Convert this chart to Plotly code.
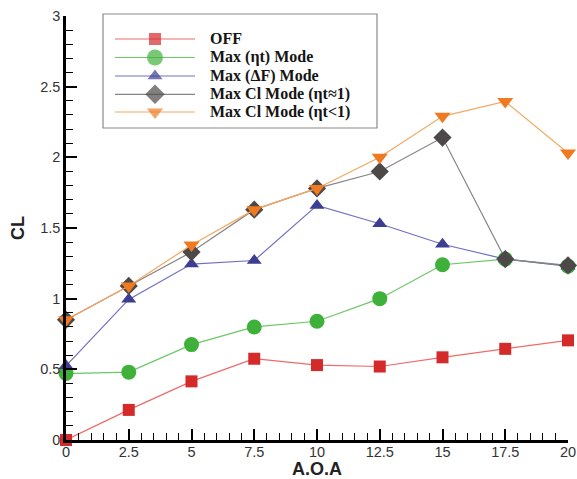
import plotly.graph_objects as go

# ---- data ----
aoa = [0, 2.5, 5, 7.5, 10, 12.5, 15, 17.5, 20]
x_tick_labels = ["0", "2.5", "5", "7.5", "10", "12.5", "15", "17.5", "20"]
y_tick_vals = [0, 0.5, 1, 1.5, 2, 2.5, 3]
y_tick_labels = ["0", "0.5", "1", "1.5", "2", "2.5", "3"]
series_names = ["OFF", "Max (ηt) Mode", "Max (ΔF) Mode", "Max Cl Mode (ηt≈1)", "Max Cl Mode (ηt<1)"]
cl_off = [0.0, 0.213, 0.415, 0.575, 0.53, 0.52, 0.585, 0.645, 0.705]
cl_max_eta = [0.47, 0.48, 0.675, 0.80, 0.84, 1.00, 1.24, 1.28, 1.23]
cl_max_df = [0.525, 0.995, 1.245, 1.27, 1.66, 1.53, 1.385, 1.28, 1.23]
cl_max_cl_eq = [0.85, 1.09, 1.33, 1.63, 1.78, 1.90, 2.14, 1.28, 1.235]
cl_max_cl_lt = [0.85, 1.09, 1.38, 1.63, 1.78, 2.00, 2.29, 2.395, 2.03]
series_values = [cl_off, cl_max_eta, cl_max_df, cl_max_cl_eq, cl_max_cl_lt]

# ---- styles ----
marker_colors = ["#d42a2a", "#3fb13a", "#3d3d92", "#4d4949", "#f07a22"]
line_colors = ["#f06a6a", "#6cc765", "#7070c0", "#8a8585", "#f5a860"]
symbols = ["square", "circle", "triangle-up", "diamond", "triangle-down"]
sizes = [12, 15, 13, 14, 14]
legend_sizes = [12, 16, 13, 15, 14]

# page-pixel geometry of the plot area
L, R, T, B = 66, 568, 16, 440
W, H = 577, 479

fig = go.Figure()
for name, ys, mc, lc, sym, sz in zip(series_names, series_values, marker_colors, line_colors, symbols, sizes):
    fig.add_trace(go.Scatter(
        x=aoa, y=ys, name=name, mode="lines+markers",
        line=dict(color=lc, width=1.2),
        marker=dict(color=mc, symbol=sym, size=sz, line=dict(width=0)),
        cliponaxis=False, showlegend=False,
    ))

# ---- hand-made legend (overlay axes in page pixels) ----
leg_x0, leg_x1, leg_xm, leg_text_x = 115, 195, 155, 209
leg_rows = [39, 57.5, 76, 94.3, 112]
for name, mc, lc, sym, sz, yy in zip(series_names, marker_colors, line_colors, symbols, legend_sizes, leg_rows):
    fig.add_trace(go.Scatter(
        x=[leg_x0, leg_xm, leg_x1], y=[yy, yy, yy], mode="lines+markers",
        xaxis="x2", yaxis="y2", showlegend=False, hoverinfo="skip",
        line=dict(color=lc, width=1.2),
        marker=dict(color=mc, symbol=sym, size=[0, sz, 0], line=dict(width=0)),
        cliponaxis=False,
    ))
    fig.add_annotation(
        x=(leg_text_x - L) / (R - L), y=(B - yy) / (B - T), xref="paper", yref="paper",
        text="<b>" + name + "</b>", showarrow=False, xanchor="left", yanchor="middle",
        font=dict(family="Liberation Serif, Times New Roman", size=16, color="#151515"),
        borderpad=0,
    )

fig.add_shape(
    type="rect", xref="paper", yref="paper",
    x0=(103 - L) / (R - L), x1=(377 - L) / (R - L),
    y0=(B - 128) / (B - T), y1=(B - 14) / (B - T),
    line=dict(color="#8a8a8a", width=1.2), fillcolor="rgba(0,0,0,0)", layer="below",
)

axis_common = dict(
    showgrid=False, zeroline=False, showline=True, linecolor="black", linewidth=2.5,
    ticks="inside", ticklen=11, tickwidth=2, tickcolor="black",
    tickfont=dict(family="Liberation Sans, Arial", size=14.5, color="#333333"),
    mirror=False, automargin=False,
)

fig.update_layout(
    xaxis=dict(
        range=[0, 20], tickmode="array", tickvals=aoa, ticktext=x_tick_labels,
        minor=dict(dtick=0.5, ticks="inside", ticklen=7, tickwidth=1, tickcolor="black"),
        ticklabelstandoff=-3,
        **axis_common,
    ),
    yaxis=dict(
        range=[0, 3], tickmode="array", tickvals=y_tick_vals, ticktext=y_tick_labels,
        minor=dict(dtick=0.1, ticks="inside", ticklen=7, tickwidth=1, tickcolor="black"),
        **axis_common,
    ),
    xaxis2=dict(range=[L, R], overlaying="x", anchor="y2", visible=False, fixedrange=True),
    yaxis2=dict(range=[B, T], overlaying="y", anchor="x2", visible=False, fixedrange=True),
    width=W, height=H,
    margin=dict(l=L, r=W - R, t=T, b=H - B),
    paper_bgcolor="white", plot_bgcolor="white",
    showlegend=False,
)

# axis titles
fig.add_annotation(
    x=(317 - L) / (R - L), y=(B - 469) / (B - T), xref="paper", yref="paper",
    text="<b>A.O.A</b>", showarrow=False, xanchor="center", yanchor="middle",
    font=dict(family="Liberation Sans, Arial", size=18, color="#222222"), borderpad=0,
)
fig.add_annotation(
    x=(18 - L) / (R - L), y=(B - 228) / (B - T), xref="paper", yref="paper",
    text="<b>CL</b>", showarrow=False, xanchor="center", yanchor="middle", textangle=-90,
    font=dict(family="Liberation Sans, Arial", size=18, color="#222222"),
)

fig.write_html("out.html")
